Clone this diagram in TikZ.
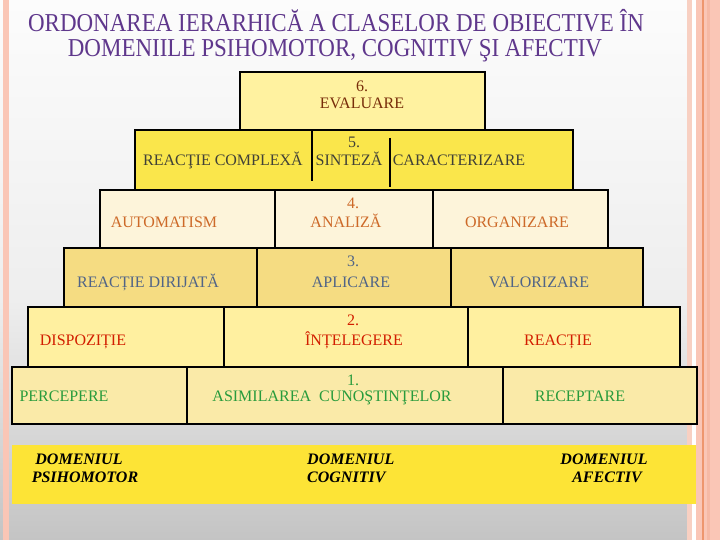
\documentclass[tikz,border=0pt]{standalone}
\usepackage{fontspec}
\setmainfont{Liberation Serif}
\usepackage{xcolor}
\usepackage{tikz}
\usetikzlibrary{positioning}

\definecolor{titlepurple}{RGB}{95,55,140}
\definecolor{lvlsix}{RGB}{255,242,160}
\definecolor{lvlfive}{RGB}{250,230,75}
\definecolor{lvlfour}{RGB}{253,244,218}
\definecolor{lvlthree}{RGB}{245,220,130}
\definecolor{lvltwo}{RGB}{255,240,160}
\definecolor{lvlone}{RGB}{250,234,168}
\definecolor{bandyellow}{RGB}{253,228,54}
\definecolor{txtsix}{RGB}{120,45,10}
\definecolor{txtfive}{RGB}{65,65,55}
\definecolor{txtfour}{RGB}{205,105,40}
\definecolor{txtthree}{RGB}{80,100,135}
\definecolor{txttwo}{RGB}{210,30,0}
\definecolor{txtone}{RGB}{40,155,60}
\definecolor{bgtop}{RGB}{252,252,252}
\definecolor{bgmid}{RGB}{238,238,238}
\definecolor{bgbot}{RGB}{196,196,196}
\definecolor{pinkstrip}{RGB}{250,198,182}
\definecolor{pinkedge}{RGB}{248,208,194}
\definecolor{pinkdark}{RGB}{246,185,165}
\definecolor{orangeline}{RGB}{238,150,110}

\newcommand{\tallhead}[1]{\scalebox{1}[1.12]{#1}}

\begin{document}
\begin{tikzpicture}[x=1pt,y=-1pt,
    cell/.style={draw=black, line width=1.8pt},
    lbl/.style={font=\fontsize{16}{18}\selectfont, inner sep=0pt, anchor=base},
    dom/.style={font=\fontsize{16}{18}\selectfont\bfseries\itshape, inner sep=0pt, anchor=base},
    heading/.style={font=\fontsize{23}{26}\selectfont, text=titlepurple, inner sep=0pt, anchor=base}]
    \useasboundingbox (0,0) rectangle (720,540);

    % background and side strips
    \shade[top color=bgtop, bottom color=bgmid] (0,0) rectangle (720,300);
    \shade[top color=bgmid, bottom color=bgbot] (0,300) rectangle (720,540);
    \fill[pinkstrip] (3,0) rectangle (9,540);
    \fill[pinkedge] (687,0) rectangle (692,540);
    \fill[white] (692,0) rectangle (696,540);
    \fill[pinkstrip] (696,0) rectangle (720,540);
    \fill[orangeline] (702,0) rectangle (703.5,540);
    \fill[pinkdark] (707,0) rectangle (710,540);

    % title
    \node[heading] (titleA) at (336,32) {\tallhead{ORDONAREA IERARHICĂ A CLASELOR DE OBIECTIVE ÎN}};
    \node[heading] (titleB) at (335,57) {\tallhead{DOMENIILE PSIHOMOTOR, COGNITIV ŞI AFECTIV}};

    % level 6
    \filldraw[cell, fill=lvlsix] (240,72) rectangle (485,130);
    % level 5
    \filldraw[cell, fill=lvlfive] (135,130) rectangle (573,190);
    \draw[cell] (312,131) -- (312,181) (390,138) -- (390,187);
    % level 4
    \filldraw[cell, fill=lvlfour] (100,190) rectangle (608,248);
    \draw[cell] (275,190) -- (275,248) (433,190) -- (433,248);
    % level 3
    \filldraw[cell, fill=lvlthree] (64,248) rectangle (643,307);
    \draw[cell] (257,248) -- (257,307) (451,248) -- (451,307);
    % level 2
    \filldraw[cell, fill=lvltwo] (28,307) rectangle (680,367);
    \draw[cell] (224,307) -- (224,367) (468,307) -- (468,367);
    % level 1
    \filldraw[cell, fill=lvlone] (12,367) rectangle (697,424);
    \draw[cell] (187,367) -- (187,424) (503,367) -- (503,424);
    % domains band
    \fill[bandyellow] (12,445) rectangle (696,504);

    \node[lbl, text=txtsix] (numsix) at (362,92) {6.};
    \node[lbl, text=txtsix] (evaluare) at (362,109) {EVALUARE};

    \node[lbl, text=txtfive] (numfive) at (354,148) {5.};
    \node[lbl, text=txtfive] (complexa) at (223,166) {REACŢIE COMPLEXĂ};
    \node[lbl, text=txtfive] (sinteza) at (349,166) {SINTEZĂ};
    \node[lbl, text=txtfive] (caract) at (459,166) {CARACTERIZARE};

    \node[lbl, text=txtfour] (numfour) at (353,209) {4.};
    \node[lbl, text=txtfour] (automat) at (164,227) {AUTOMATISM};
    \node[lbl, text=txtfour] (analiza) at (346,227) {ANALIZĂ};
    \node[lbl, text=txtfour] (organiz) at (517,227) {ORGANIZARE};

    \node[lbl, text=txtthree] (numthree) at (353,266) {3.};
    \node[lbl, text=txtthree] (dirijata) at (148,287) {REACȚIE DIRIJATĂ};
    \node[lbl, text=txtthree] (aplicare) at (351,287) {APLICARE};
    \node[lbl, text=txtthree] (valoriz) at (539,287) {VALORIZARE};

    \node[lbl, text=txttwo] (numtwo) at (353,325) {2.};
    \node[lbl, text=txttwo] (dispoz) at (83,345) {DISPOZIȚIE};
    \node[lbl, text=txttwo] (intelegere) at (354,345) {ÎNȚELEGERE};
    \node[lbl, text=txttwo] (reactie) at (558,345) {REACȚIE};

    \node[lbl, text=txtone] (numone) at (353,385) {1.};
    \node[lbl, text=txtone] (percepere) at (64,401) {PERCEPERE};
    \node[lbl, text=txtone] (asimilare) at (332,401) {ASIMILAREA\ \ CUNOŞTINŢELOR};
    \node[lbl, text=txtone] (receptare) at (580,401) {RECEPTARE};

    \node[dom] (domA) at (79,464) {DOMENIUL};
    \node[dom] (psiho) at (85,482) {PSIHOMOTOR};
    \node[dom, anchor=base west] (domB) at (307,464) {DOMENIUL};
    \node[dom, anchor=base west] (cogn) at (307,482) {COGNITIV};
    \node[dom] (domC) at (604,464) {DOMENIUL};
    \node[dom] (afect) at (607,482) {AFECTIV};
\end{tikzpicture}
\end{document}
